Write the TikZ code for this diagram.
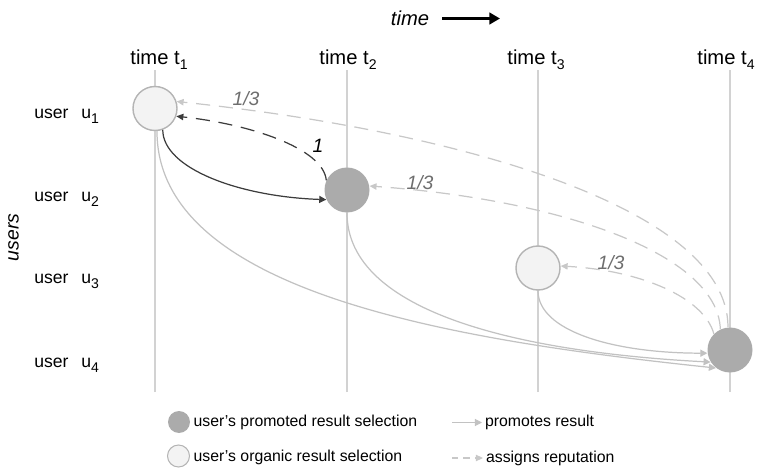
\documentclass[tikz,border=0pt]{standalone}
\usepackage{fontspec}
\setmainfont{Liberation Sans}
\usetikzlibrary{arrows.meta}
\definecolor{promofill}{HTML}{ABABAB}
\definecolor{orgfill}{HTML}{F3F3F3}
\definecolor{orgline}{HTML}{B4B4B4}
\definecolor{linegray}{HTML}{D2D2D2}
\definecolor{curvegray}{HTML}{C2C2C2}
\definecolor{dashgray}{HTML}{C8C8C8}
\definecolor{darkline}{HTML}{3C3C3C}
\definecolor{labelgray}{HTML}{6E6E6E}
\newcommand{\lowidx}[1]{\raisebox{-0.55ex}{\footnotesize #1}}
\begin{document}
\begin{tikzpicture}[every node/.style={font=\fontsize{11.5}{13}\selectfont},
  promo/.style={circle,fill=promofill,minimum size=0.9cm,inner sep=0pt},
  organic/.style={circle,fill=orgfill,draw=orgline,line width=0.8pt,minimum size=0.88cm,inner sep=0pt},
  promline/.style={-{Triangle[length=4pt,width=4pt]},line width=0.7pt,curvegray},
  repline/.style={-{Triangle[length=4pt,width=3.6pt]},line width=0.7pt,dashgray,dash pattern=on 8pt off 5pt},
  weight/.style={font=\itshape\fontsize{11}{13}\selectfont,labelgray,inner sep=1pt},
  rowlbl/.style={anchor=base west,inner sep=0pt,font=\fontsize{10}{12}\selectfont},
  legend/.style={font=\fontsize{9}{11}\selectfont,anchor=west,inner sep=1pt}]
  \useasboundingbox (0,0) rectangle (15.14,9.4);
  % time axis
  \node[font=\itshape\fontsize{11.5}{13}\selectfont] (timelbl) at (8.2,9.04) {time};
  \coordinate (tA) at (8.84,9.03); \coordinate (tB) at (10.0,9.03);
  \draw[-{Triangle[length=6pt,width=6.5pt]},line width=1.5pt] (tA) -- (tB);
  \foreach \x/\i/\dx in {3.1/1/0.08,6.94/2/0.02,10.76/3/-0.04,14.6/4/-0.08} {
    \draw[line width=0.6pt,linegray] (\x,1.56) -- (\x,8.0);
    \node[anchor=base] (t\i) at (\x+\dx,8.12) {time t\lowidx{\i}};
  }
  % users
  \node[font=\itshape\fontsize{11}{13}\selectfont,rotate=90] (userslbl) at (0.27,4.65) {users};
  \node[rowlbl] (l1) at (0.68,7.04) {user\hspace{4.5pt} u\lowidx{1}};
  \node[rowlbl] (l2) at (0.68,5.38) {user\hspace{4.5pt} u\lowidx{2}};
  \node[rowlbl] (l3) at (0.68,3.74) {user\hspace{4.5pt} u\lowidx{3}};
  \node[rowlbl] (l4) at (0.68,2.06) {user\hspace{4.5pt} u\lowidx{4}};
  % selections
  \node[organic] (u1) at (3.1,7.23) {};
  \node[promo] (u2) at (6.94,5.6) {};
  \node[organic] (u3) at (10.76,4.04) {};
  \node[promo] (u4) at (14.6,2.4) {};
  % promotes
  \draw[promline] (u1.-85) to[out=-90,in=174,out distance=3.2cm,in distance=5.4cm] (u4.-128);
  \draw[promline] (u2.south) to[out=-90,in=177,out distance=2.0cm,in distance=3.8cm] (u4.-148);
  \draw[promline] (u3.south) to[out=-90,in=180,out distance=0.8cm,in distance=1.9cm] (u4.188);
  \draw[promline,darkline] (u1.-70) to[out=-90,in=178,out distance=0.77cm,in distance=1.75cm] (u2.205);
  % reputation
  \draw[repline] (u4.95) to[out=90,in=-6,out distance=2.4cm,in distance=5.6cm] (u1.18);
  \draw[repline] (u4.115) to[out=92,in=-4,out distance=1.55cm,in distance=3.7cm] (u2.10);
  \draw[repline] (u4.135) to[out=105,in=-3,out distance=0.75cm,in distance=1.6cm] (u3.5);
  \draw[repline,darkline] (u2.155) to[out=95,in=-6,out distance=0.65cm,in distance=1.45cm] (u1.-20);
  \node[weight] (w1) at (4.92,7.42) {1/3};
  \node[weight] (w2) at (8.4,5.74) {1/3};
  \node[weight] (w3) at (12.22,4.14) {1/3};
  \node[weight,black,fill=white] (w4) at (6.36,6.48) {1};
  % legend
  \node[promo,minimum size=0.44cm] (kp) at (3.58,0.96) {};
  \node[legend] (kpt) at (3.83,0.95) {user's promoted result selection};
  \node[organic,minimum size=0.44cm,line width=0.6pt] (ko) at (3.57,0.28) {};
  \node[legend] (kot) at (3.83,0.26) {user's organic result selection};
  \coordinate (pa) at (9.04,0.95); \coordinate (pb) at (9.64,0.95);
  \draw[promline,line width=0.6pt] (pa) -- (pb);
  \node[legend] (ppt) at (9.66,0.95) {promotes result};
  \coordinate (ra) at (9.04,0.24); \coordinate (rb) at (9.66,0.24);
  \draw[repline,line width=0.6pt,dash pattern=on 3.5pt off 3pt] (ra) -- (rb);
  \node[legend] (rpt) at (9.68,0.24) {assigns reputation};
\end{tikzpicture}
\end{document}
